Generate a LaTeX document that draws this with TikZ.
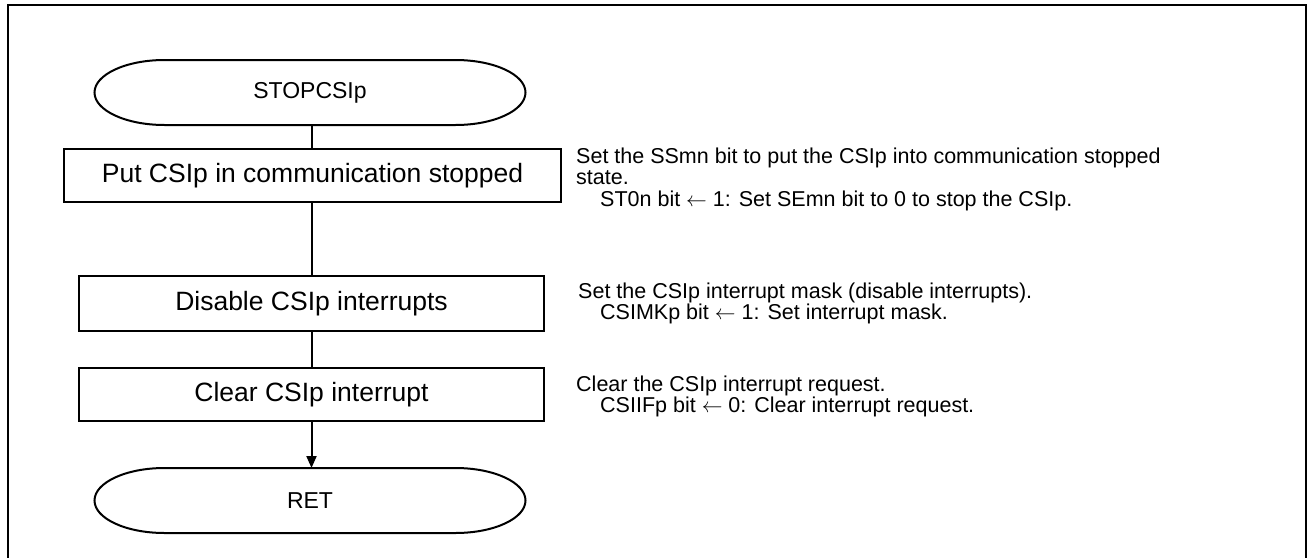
\documentclass[tikz,border=0pt]{standalone}
\usepackage{fontspec}
\setmainfont{Liberation Sans}
\usetikzlibrary{arrows.meta}
\tikzset{
  frameline/.style={line width=2.6pt},
  procbox/.style={draw, line width=2pt, rectangle, inner sep=0pt, outer sep=0pt,
    font=\fontsize{26.5}{26.5}\selectfont},
  termnode/.style={inner sep=0pt, outer sep=0pt, minimum width=431pt, minimum height=65pt,
    font=\fontsize{23}{23}\selectfont},
  termline/.style={line width=2pt},
  conn/.style={line width=2pt},
  note/.style={anchor=base west, inner sep=0pt, text height=15pt, text depth=4pt,
    font=\fontsize{21.5}{21.5}\selectfont}
}
\begin{document}
\begin{tikzpicture}[x=1pt,y=-1pt]
\useasboundingbox (0,0) rectangle (1309,557);
\draw[frameline] (8,575) -- (8,5) -- (1306,5) -- (1306,575);

% terminals
\node[termnode] (start) at (310,92.5) {STOPCSIp};
\draw[termline] ([xshift=70pt]start.north west) -- ([xshift=-70pt]start.north east)
  arc[start angle=90,end angle=-90,x radius=70pt,y radius=32.5pt]
  -- ([xshift=70pt]start.south west)
  arc[start angle=270,end angle=90,x radius=70pt,y radius=32.5pt] -- cycle;

\node[termnode] (ret) at (310,500.5) {RET};
\draw[termline] ([xshift=70pt]ret.north west) -- ([xshift=-70pt]ret.north east)
  arc[start angle=90,end angle=-90,x radius=70pt,y radius=32.5pt]
  -- ([xshift=70pt]ret.south west)
  arc[start angle=270,end angle=90,x radius=70pt,y radius=32.5pt] -- cycle;

% process boxes
\node[procbox, minimum width=497pt, minimum height=53pt] (b1) at (312.5,175.5) {Put CSIp in communication stopped};
\node[procbox, minimum width=465pt, minimum height=55pt] (b2) at (311.5,303.5) {Disable CSIp interrupts};
\node[procbox, minimum width=465pt, minimum height=53pt] (b3) at (311.5,394.5) {Clear CSIp interrupt};

% connectors
\draw[conn] (start.south -| b2.north) -- (b1.north -| b2.north);
\draw[conn] (b1.south -| b2.north) -- (b2.north);
\draw[conn] (b2.south) -- (b3.north);
\draw[conn, -{Triangle[length=12pt,width=10pt]}] (b3.south) -- (ret.north -| b3.south);

% notes
\node[note] (n1a) at (576,163) {Set the SSmn bit to put the CSIp into communication stopped};
\node[note] (n1b) at (576,184.5) {state.};
\node[note] (n1c) at (600,206) {ST0n bit $\leftarrow$ 1: Set SEmn bit to 0 to stop the CSIp.};
\node[note] (n2a) at (578,298) {Set the CSIp interrupt mask (disable interrupts).};
\node[note] (n2b) at (600,319.5) {CSIMKp bit $\leftarrow$ 1: Set interrupt mask.};
\node[note] (n3a) at (576,391) {Clear the CSIp interrupt request.};
\node[note] (n3b) at (600,412.5) {CSIIFp bit $\leftarrow$ 0: Clear interrupt request.};
\end{tikzpicture}
\end{document}
